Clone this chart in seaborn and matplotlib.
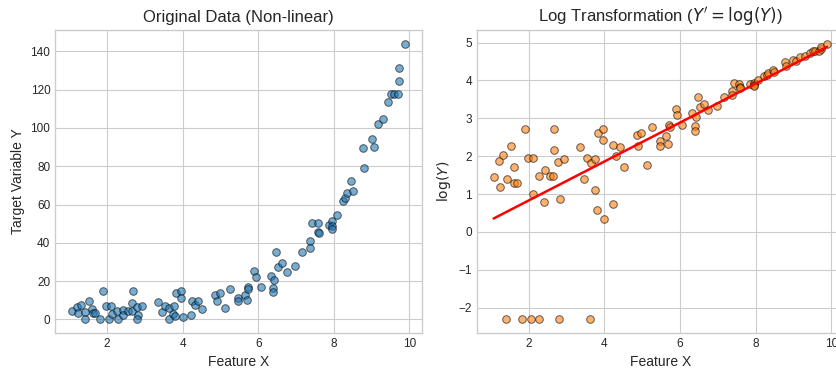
import numpy as np
import pandas as pd
import matplotlib
matplotlib.use("Agg")
import matplotlib.pyplot as plt
import seaborn as sns

# Feature X values
x_vals = [1.07, 1.20, 1.24, 1.32, 1.42, 1.41, 1.53, 1.60, 1.62, 1.68,
          1.81, 1.89, 1.98, 2.05, 2.11, 2.12, 2.28, 2.27, 2.42, 2.41,
          2.55, 2.65, 2.67, 2.68, 2.78, 2.82, 2.80, 2.93, 3.35, 3.45,
          3.54, 3.63, 3.65, 3.76, 3.75, 3.82, 3.81, 3.95, 3.95, 4.00,
          4.22, 4.24, 4.32, 4.40, 4.51, 4.86, 4.90, 4.98, 5.12, 5.26,
          5.46, 5.46, 5.64, 5.69, 5.72, 5.74, 5.89, 5.93, 6.06, 6.33,
          6.40, 6.40, 6.42, 6.48, 6.52, 6.63, 6.75, 6.98, 7.17, 7.37,
          7.38, 7.42, 7.57, 7.58, 7.60, 7.86, 7.96, 7.95, 7.96, 8.07,
          8.23, 8.29, 8.34, 8.46, 8.50, 8.77, 8.80, 9.00, 9.06, 9.18,
          9.30, 9.44, 9.51, 9.58, 9.69, 9.73, 9.73, 9.89]
# Target Y values (clipped at 0.1)
y_vals = [4.3, 6.5, 3.3, 7.7, 4.1, 0.1, 9.6, 5.6, 3.6, 3.6,
          0.1, 15.0, 7.0, 0.1, 7.0, 2.7, 0.1, 4.4, 5.1, 2.2,
          4.4, 4.4, 8.8, 15.0, 6.4, 2.4, 0.1, 6.9, 9.3, 4.0,
          7.0, 0.1, 6.2, 6.9, 3.0, 13.8, 1.8, 15.0, 11.2, 1.4,
          2.1, 9.8, 7.4, 9.4, 5.6, 13.0, 9.6, 13.6, 5.8, 16.0,
          11.1, 9.6, 12.7, 10.1, 17.0, 15.8, 25.5, 22.1, 16.9, 22.8,
          16.5, 14.5, 20.8, 35.0, 27.4, 29.5, 25.0, 28.1, 35.1, 41.0,
          37.3, 50.4, 50.1, 45.7, 45.0, 49.3, 51.5, 48.6, 47.4, 54.5,
          61.8, 63.2, 66.2, 72.5, 67.3, 89.5, 79.0, 94.2, 90.0, 102.3,
          104.8, 113.5, 117.5, 117.5, 117.5, 124.5, 131.2, 144.0]

df = pd.DataFrame({"x": x_vals, "y": y_vals})
df["log_y"] = np.log(df["y"])

plt.style.use("seaborn-v0_8-whitegrid")
plt.rcParams["xtick.labelsize"] = 8.5
plt.rcParams["ytick.labelsize"] = 8.5
fig, axes = plt.subplots(1, 2, figsize=(8.37, 3.69), dpi=100)
fig.subplots_adjust(left=0.066, right=1.008, top=0.919, bottom=0.0976, wspace=0.15)

ax = axes[0]
sns.scatterplot(data=df, x="x", y="y", ax=ax, color="#1f77b4", alpha=0.6,
                edgecolor="k", linewidth=0.7, s=30)
ax.set_title("Original Data (Non-linear)", fontsize=12)
ax.set_xlabel("Feature X", fontsize=10)
ax.set_ylabel("Target Variable Y", fontsize=10)

ax = axes[1]
sns.scatterplot(data=df, x="x", y="log_y", ax=ax, color="#ff7f0e", alpha=0.6,
                edgecolor="k", linewidth=0.7, s=30)
sns.regplot(data=df, x="x", y="log_y", ax=ax, scatter=False, ci=None,
            color="red", line_kws={"linewidth": 1.8})
ax.set_title(r"Log Transformation ($Y' = \log(Y)$)", fontsize=12)
ax.set_xlabel("Feature X", fontsize=10)
ax.set_ylabel(r"$\log(Y)$", fontsize=10)

fig.savefig("out.png", dpi=100)
